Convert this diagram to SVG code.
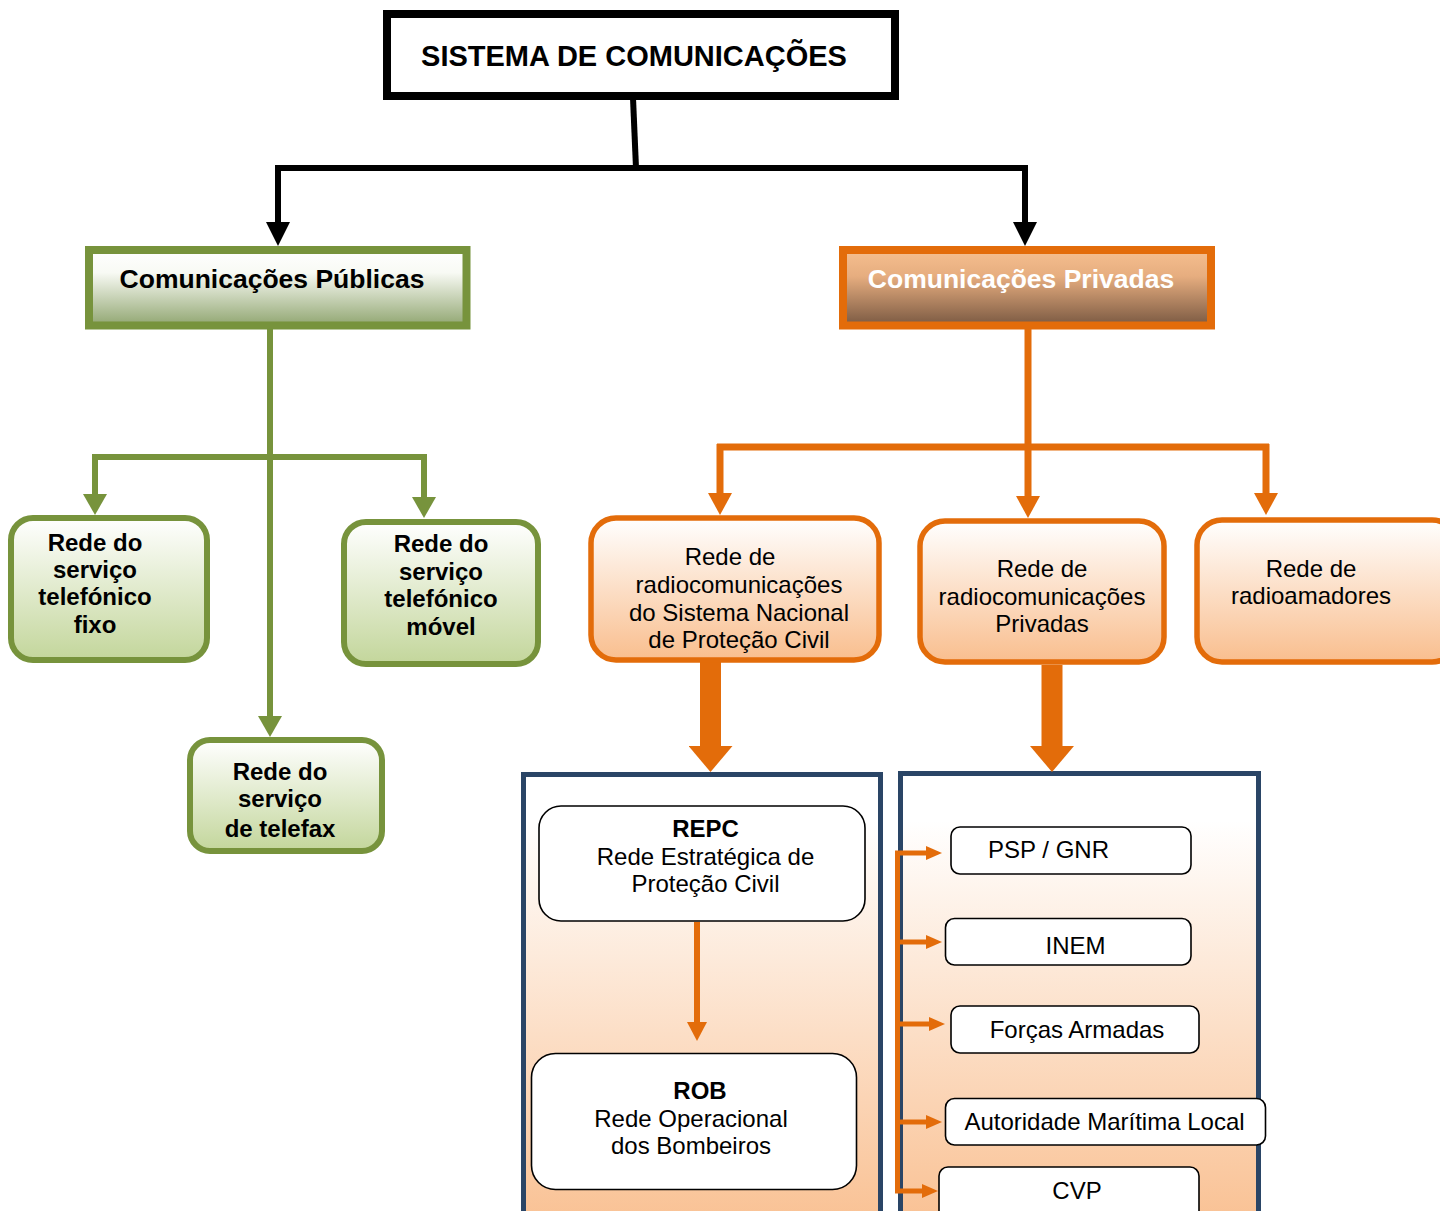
<svg xmlns="http://www.w3.org/2000/svg" width="1440" height="1211" viewBox="0 0 1440 1211">
  <defs>
    <linearGradient id="gPub" x1="0" y1="0" x2="0" y2="1">
      <stop offset="0" stop-color="#FFFFFF"/>
      <stop offset="0.3" stop-color="#F8FAF4"/>
      <stop offset="1" stop-color="#91A671"/>
    </linearGradient>
    <linearGradient id="gPriv" x1="0" y1="0" x2="0" y2="1">
      <stop offset="0" stop-color="#F6BF8F"/>
      <stop offset="0.35" stop-color="#E6AD7F"/>
      <stop offset="1" stop-color="#7A5942"/>
    </linearGradient>
    <linearGradient id="gGreen" x1="0" y1="0" x2="0" y2="1">
      <stop offset="0" stop-color="#FFFFFF"/>
      <stop offset="1" stop-color="#C3D69B"/>
    </linearGradient>
    <linearGradient id="gOrange" x1="0" y1="0" x2="0" y2="1">
      <stop offset="0" stop-color="#FFFFFF"/>
      <stop offset="1" stop-color="#F9BE8E"/>
    </linearGradient>
    <linearGradient id="gPanel" x1="0" y1="0" x2="0" y2="1">
      <stop offset="0" stop-color="#FFFFFF"/>
      <stop offset="0.1" stop-color="#FFFFFF"/>
      <stop offset="1" stop-color="#F9BE8E"/>
    </linearGradient>

    <marker id="mBlack" markerUnits="userSpaceOnUse" viewBox="0 0 24 24" markerWidth="24" markerHeight="24" refX="0" refY="12" orient="auto">
      <path d="M0,0 L24,12 L0,24 Z" fill="#000000"/>
    </marker>
    <marker id="mGreen" markerUnits="userSpaceOnUse" viewBox="0 0 21 24" markerWidth="21" markerHeight="24" refX="0" refY="12" orient="auto">
      <path d="M0,0 L21,12 L0,24 Z" fill="#77933C"/>
    </marker>
    <marker id="mOrange" markerUnits="userSpaceOnUse" viewBox="0 0 22 24" markerWidth="22" markerHeight="24" refX="0" refY="12" orient="auto">
      <path d="M0,0 L22,12 L0,24 Z" fill="#E36C0A"/>
    </marker>
    <marker id="mOrangeBig" markerUnits="userSpaceOnUse" viewBox="0 0 26 44" markerWidth="26" markerHeight="44" refX="0" refY="22" orient="auto">
      <path d="M0,0 L26,22 L0,44 Z" fill="#E36C0A"/>
    </marker>
    <marker id="mOrangeMid" markerUnits="userSpaceOnUse" viewBox="0 0 19 20" markerWidth="19" markerHeight="20" refX="0" refY="10" orient="auto">
      <path d="M0,0 L19,10 L0,20 Z" fill="#E36C0A"/>
    </marker>
    <marker id="mOrangeSmall" markerUnits="userSpaceOnUse" viewBox="0 0 16 14" markerWidth="16" markerHeight="14" refX="0" refY="7" orient="auto">
      <path d="M0,0 L16,7 L0,14 Z" fill="#E36C0A"/>
    </marker>

    <style>
      text { font-family: "Liberation Sans", Arial, sans-serif; fill: #000000; text-anchor: middle; }
      .b { font-weight: bold; }
      .t24 { font-size: 24px; }
      .t26 { font-size: 26.5px; font-weight: bold; }
      .green { fill: url(#gGreen); stroke: #77933C; stroke-width: 6; }
      .orange { fill: url(#gOrange); stroke: #E36C0A; stroke-width: 5.5; }
      .panel { fill: url(#gPanel); stroke: #2A4566; stroke-width: 5; }
      .card { fill: #FFFFFF; stroke: #000000; stroke-width: 1.6; }
      .cBlack { fill: none; stroke: #000000; stroke-width: 6; }
      .cGreen { fill: none; stroke: #77933C; stroke-width: 6; }
      .cOrange { fill: none; stroke: #E36C0A; stroke-width: 7; }
      .cThin { fill: none; stroke: #E36C0A; stroke-width: 5; }
    </style>
  </defs>

  <!-- containers for the two radio networks (drawn first, below everything) -->
  <g id="panel-snpc">
    <rect class="panel" x="523.5" y="774.5" width="357" height="470"/>
  </g>
  <g id="panel-privadas">
    <rect class="panel" x="900.5" y="773.5" width="358" height="470"/>
  </g>

  <!-- connectors -->
  <g id="connectors">
    <!-- root to the two branches -->
    <path class="cBlack" d="M633,98 L636,168"/>
    <path class="cBlack" d="M275,168 L1028,168"/>
    <path class="cBlack" d="M278,168 L278,222" marker-end="url(#mBlack)"/>
    <path class="cBlack" d="M1025,168 L1025,222" marker-end="url(#mBlack)"/>

    <!-- public branch -->
    <path class="cGreen" d="M270,329 L270,716" marker-end="url(#mGreen)"/>
    <path class="cGreen" d="M95,457 L424,457"/>
    <path class="cGreen" d="M95,454 L95,494" marker-end="url(#mGreen)"/>
    <path class="cGreen" d="M424,454 L424,497" marker-end="url(#mGreen)"/>

    <!-- private branch -->
    <path class="cOrange" d="M1028,329 L1028,496" marker-end="url(#mOrange)"/>
    <path class="cOrange" d="M717,447 L1269,447"/>
    <path class="cOrange" d="M720,444 L720,493" marker-end="url(#mOrange)"/>
    <path class="cOrange" d="M1266,444 L1266,493" marker-end="url(#mOrange)"/>

    <!-- thick arrows into the containers -->
    <path fill="none" stroke="#E36C0A" stroke-width="21" d="M710.5,662 L710.5,746" marker-end="url(#mOrangeBig)"/>
    <path fill="none" stroke="#E36C0A" stroke-width="21" d="M1052,665 L1052,746" marker-end="url(#mOrangeBig)"/>

    <!-- REPC to ROB -->
    <path fill="none" stroke="#E36C0A" stroke-width="6" d="M697,922 L697,1022" marker-end="url(#mOrangeMid)"/>

    <!-- bracket feeding the private network members -->
    <path class="cThin" d="M897.5,853 L897.5,1191"/>
    <path class="cThin" d="M895,853 L926,853" marker-end="url(#mOrangeSmall)"/>
    <path class="cThin" d="M895,942 L926,942" marker-end="url(#mOrangeSmall)"/>
    <path class="cThin" d="M895,1024 L929,1024" marker-end="url(#mOrangeSmall)"/>
    <path class="cThin" d="M895,1122 L926,1122" marker-end="url(#mOrangeSmall)"/>
    <path class="cThin" d="M895,1191 L922,1191" marker-end="url(#mOrangeSmall)"/>
  </g>

  <!-- root -->
  <g id="sistema">
    <rect x="387" y="14" width="508" height="82" fill="#FFFFFF" stroke="#000000" stroke-width="8"/>
    <text class="b" x="634" y="66" font-size="29">SISTEMA DE COMUNICAÇÕES</text>
  </g>

  <!-- public communications -->
  <g id="com-publicas">
    <rect x="89" y="250" width="377.5" height="75.5" fill="url(#gPub)" stroke="#77933C" stroke-width="8"/>
    <text class="t26" x="272" y="288">Comunicações Públicas</text>
  </g>
  <g id="fixo">
    <rect class="green" x="11" y="518" width="196" height="142" rx="22"/>
    <text class="b t24"><tspan x="95" y="551">Rede do</tspan><tspan x="95" y="578">serviço</tspan><tspan x="95" y="605">telefónico</tspan><tspan x="95" y="633">fixo</tspan></text>
  </g>
  <g id="movel">
    <rect class="green" x="344" y="522" width="194" height="142" rx="22"/>
    <text class="b t24"><tspan x="441" y="552">Rede do</tspan><tspan x="441" y="580">serviço</tspan><tspan x="441" y="607">telefónico</tspan><tspan x="441" y="635">móvel</tspan></text>
  </g>
  <g id="telefax">
    <rect class="green" x="190" y="740" width="192" height="111" rx="20"/>
    <text class="b t24"><tspan x="280" y="780">Rede do</tspan><tspan x="280" y="807">serviço</tspan><tspan x="280" y="837">de telefax</tspan></text>
  </g>

  <!-- private communications -->
  <g id="com-privadas">
    <rect x="843" y="250" width="368" height="75.5" fill="url(#gPriv)" stroke="#E36C0A" stroke-width="8"/>
    <text class="t26" x="1021" y="288" style="fill:#FFFFFF">Comunicações Privadas</text>
  </g>
  <g id="radio-snpc">
    <rect class="orange" x="591" y="518" width="288" height="142" rx="25"/>
    <text class="t24"><tspan x="730" y="565">Rede de</tspan><tspan x="739" y="593">radiocomunicações</tspan><tspan x="739" y="621">do Sistema Nacional</tspan><tspan x="739" y="648">de Proteção Civil</tspan></text>
  </g>
  <g id="radio-privadas">
    <rect class="orange" x="920" y="521" width="244" height="141" rx="25"/>
    <text class="t24"><tspan x="1042" y="577">Rede de</tspan><tspan x="1042" y="605">radiocomunicações</tspan><tspan x="1042" y="632">Privadas</tspan></text>
  </g>
  <g id="radioamadores">
    <rect class="orange" x="1197" y="520" width="260" height="142" rx="25"/>
    <text class="t24"><tspan x="1311" y="577">Rede de</tspan><tspan x="1311" y="604">radioamadores</tspan></text>
  </g>

  <!-- national civil protection networks -->
  <g id="repc">
    <rect class="card" x="539" y="806" width="326" height="115" rx="22"/>
    <text class="t24"><tspan class="b" x="705.5" y="837">REPC</tspan><tspan x="705.5" y="865">Rede Estratégica de</tspan><tspan x="705.5" y="892">Proteção Civil</tspan></text>
  </g>
  <g id="rob">
    <rect class="card" x="531.5" y="1053.5" width="325" height="136" rx="24"/>
    <text class="t24"><tspan class="b" x="700" y="1099">ROB</tspan><tspan x="691" y="1127">Rede Operacional</tspan><tspan x="691" y="1154">dos Bombeiros</tspan></text>
  </g>

  <!-- private network members -->
  <g id="psp-gnr">
    <rect class="card" x="951" y="827" width="240" height="47" rx="9"/>
    <text class="t24" x="1048.5" y="858">PSP / GNR</text>
  </g>
  <g id="inem">
    <rect class="card" x="945.5" y="918.5" width="245.5" height="46.5" rx="9"/>
    <text class="t24" x="1075.5" y="954">INEM</text>
  </g>
  <g id="forcas-armadas">
    <rect class="card" x="951" y="1006" width="248" height="47" rx="9"/>
    <text class="t24" x="1077" y="1038">Forças Armadas</text>
  </g>
  <g id="autoridade-maritima">
    <rect class="card" x="945.5" y="1098.5" width="320" height="46.5" rx="9"/>
    <text class="t24" x="1104.5" y="1130">Autoridade Marítima Local</text>
  </g>
  <g id="cvp">
    <rect class="card" x="939" y="1167" width="260" height="60" rx="9"/>
    <text class="t24" x="1077" y="1199">CVP</text>
  </g>
</svg>
